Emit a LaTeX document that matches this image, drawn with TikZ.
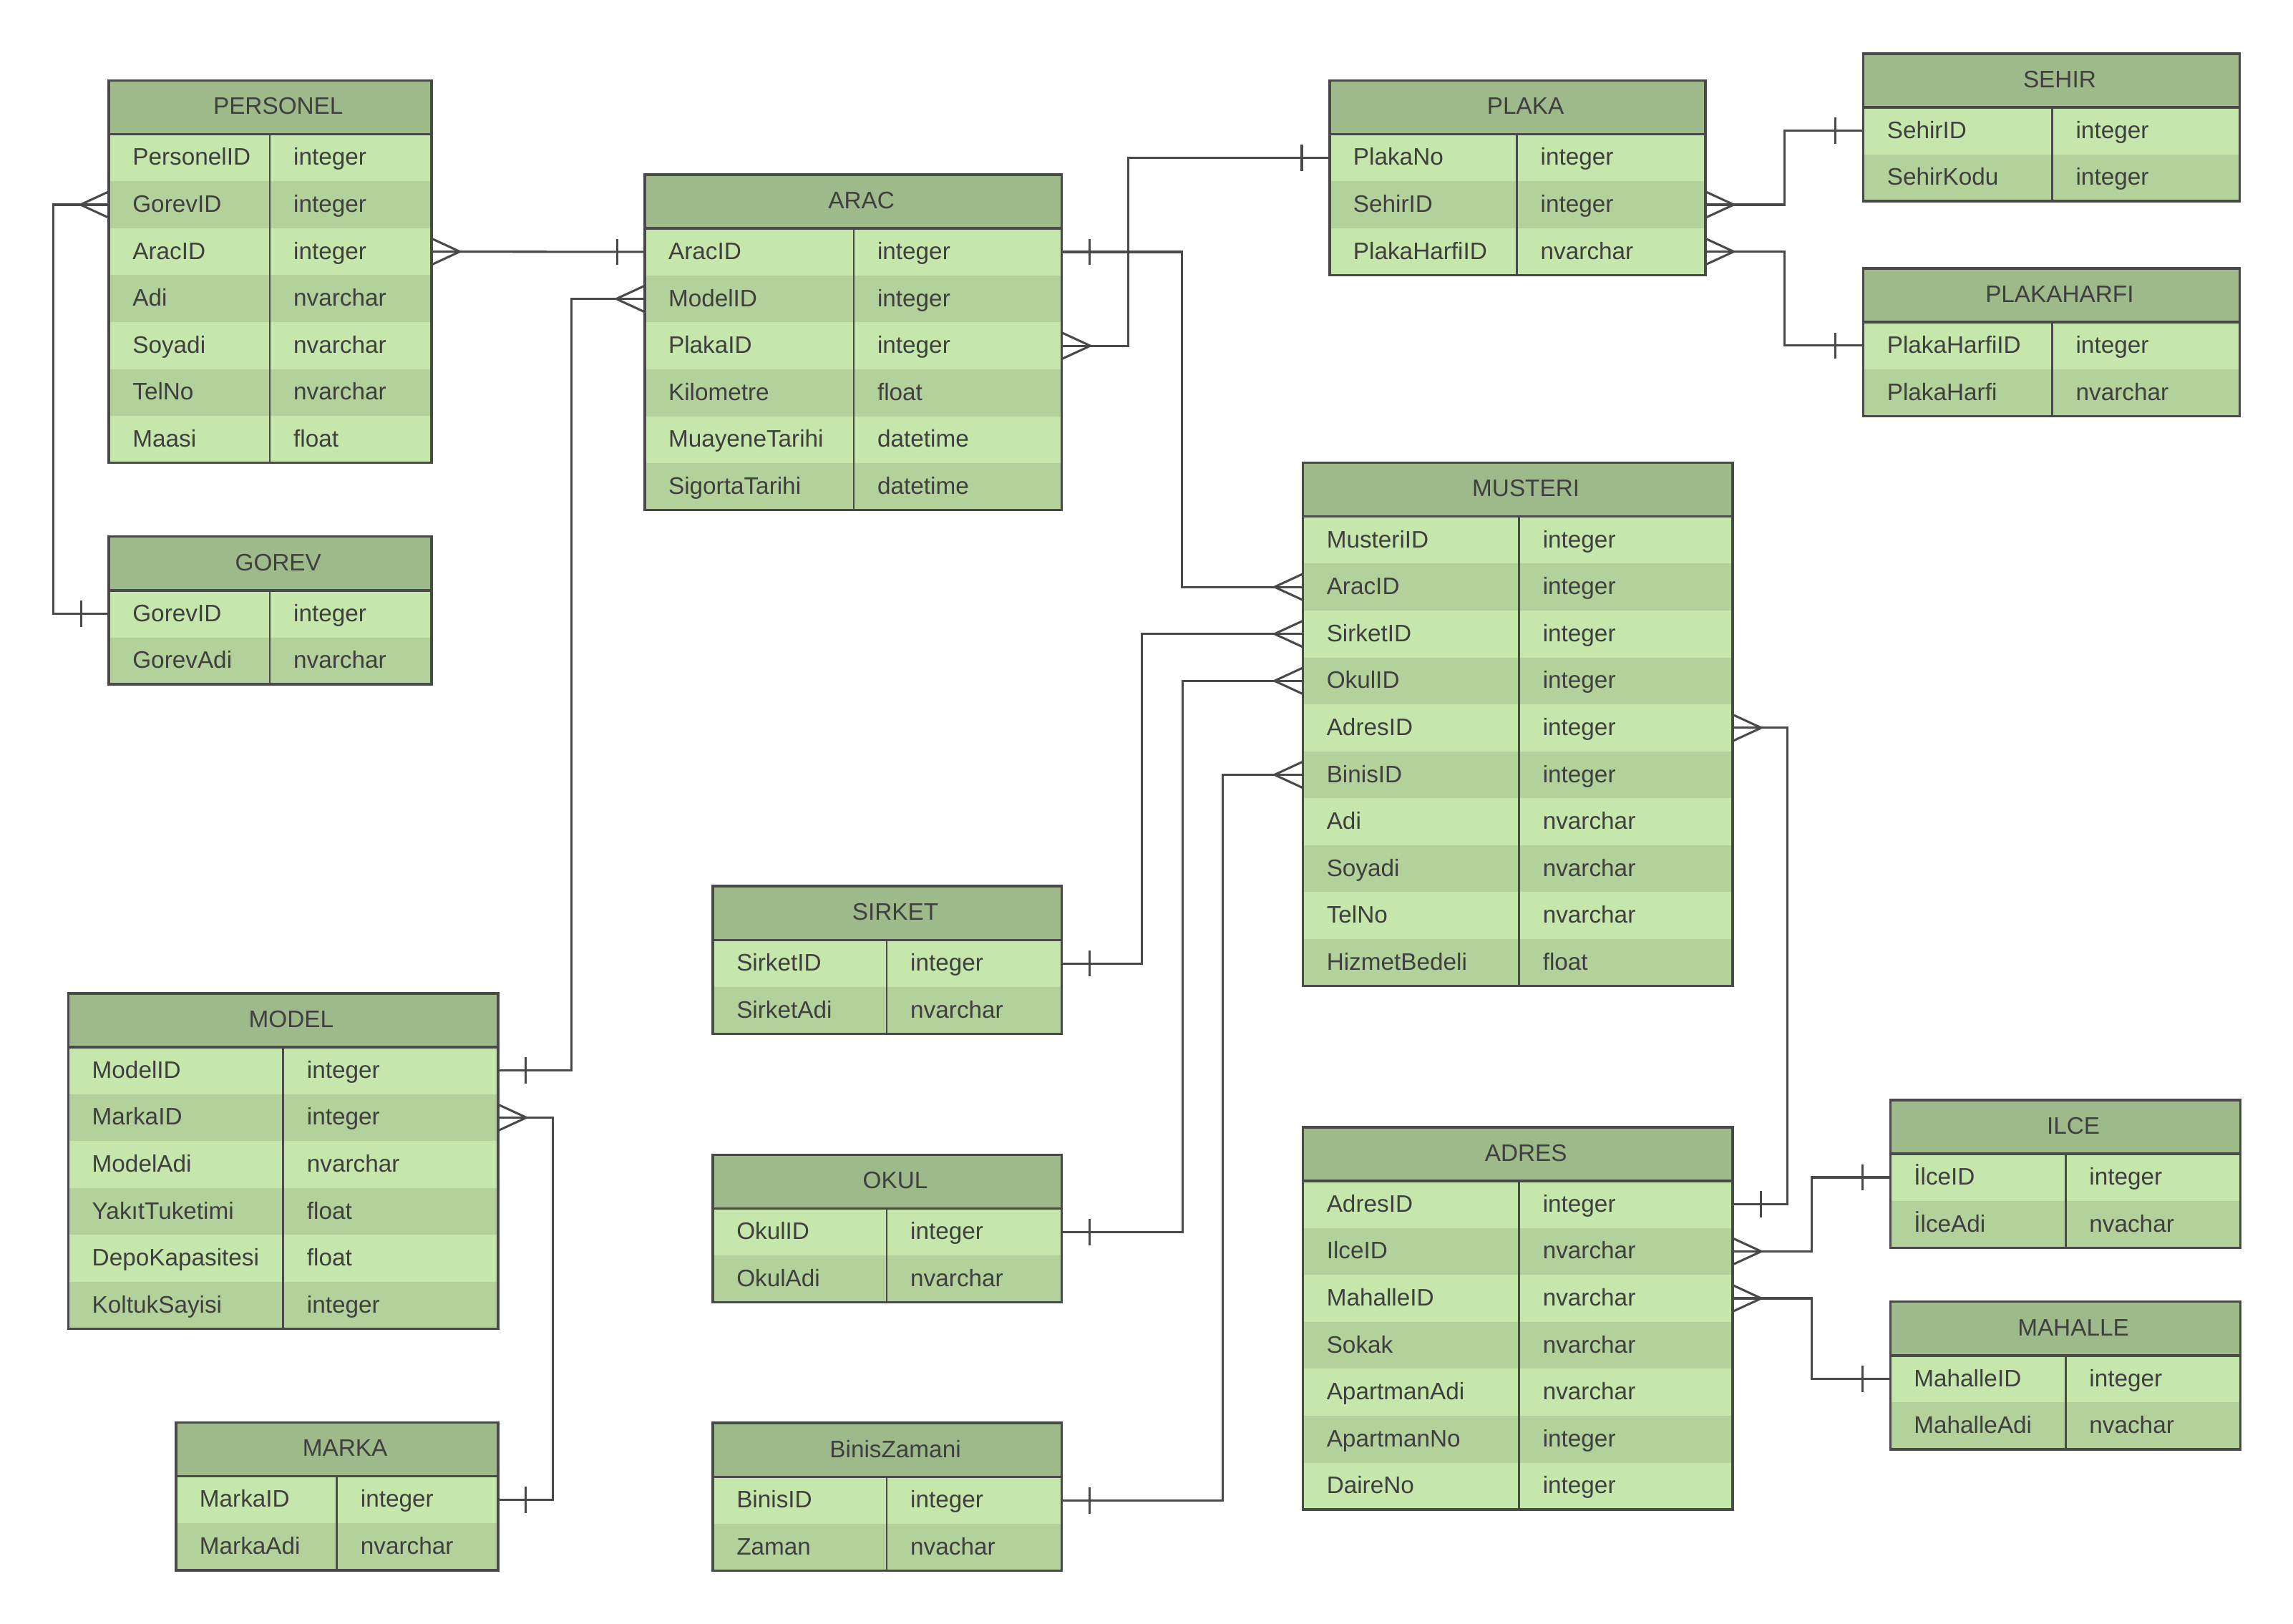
\documentclass[tikz,border=0pt]{standalone}
\usepackage{fontspec}
\setmainfont{Liberation Sans}

\definecolor{hdrgreen}{HTML}{9EBA8A}
\definecolor{rowlight}{HTML}{C6E7AC}
\definecolor{rowdark}{HTML}{B3D19B}
\definecolor{inkgrey}{HTML}{494949}
\definecolor{textgrey}{HTML}{3F3F3F}

% name, left, top, width, key column width, title, number of rows, rows
\newcommand{\erentity}[8]{%
  \node[erhead, minimum width=#4pt, anchor=north west] (#1) at (#2,#3) {};
  \node[ertitle] (#1-title) at ([xshift=5.5pt,yshift=0.8pt]#1.center) {#6};
  \foreach \fname/\ftype [count=\i] in {#8} {
    \pgfmathsetmacro{\rowy}{#3+36.8+(\i-1)*32.1}
    \ifodd\i\relax\def\rowfill{rowlight}\else\def\rowfill{rowdark}\fi
    \node[errow, fill=\rowfill, minimum width=#4pt, anchor=north west] (#1-\i) at (#2,\rowy) {};
    \node[erfield] (#1-\i-name) at (#2+16,\rowy+21.2) {\fname};
    \node[erfield] (#1-\i-type) at (#2+#5+16,\rowy+21.2) {\ftype};
  }
  \draw[erline] (#1.south west) -- (#1.south east);
  \draw[ersep] ([xshift=#5pt]#1.south west) -- ([xshift=#5pt]#1-#7.south west);
  \draw[erline] (#1.north west) rectangle (#1-#7.south east);
}

\begin{document}
\begin{tikzpicture}[
    x=1pt, y=-1pt,
    erhead/.style={rectangle,fill=hdrgreen,minimum height=36.8pt,inner sep=0pt,outer sep=0pt},
    errow/.style={rectangle,minimum height=32.1pt,inner sep=0pt,outer sep=0pt},
    ertitle/.style={inner sep=0pt,text=textgrey,font=\fontsize{16.3pt}{19pt}\selectfont},
    erfield/.style={anchor=base west,inner sep=0pt,text=textgrey,font=\fontsize{16.3pt}{19pt}\selectfont},
    erline/.style={draw=inkgrey,line width=1.7pt},
    ersep/.style={draw=inkgrey,line width=1.3pt},
    erconn/.style={draw=inkgrey,line width=1.5pt},
    manyright/.pic={\draw[erconn] (0,-9) -- (19.5,0) -- (0,9);},
    manyleft/.pic={\draw[erconn] (0,-9) -- (-19.5,0) -- (0,9);},
    oneright/.pic={\draw[erconn] (19,-9) -- (19,9);},
    oneleft/.pic={\draw[erconn] (-19,-9) -- (-19,9);}
]
    \path[use as bounding box, fill=white] (0,0) rectangle (1568,1110.4);

    % Tables
    \erentity{personel}{74.5}{55}{220.5}{110}{PERSONEL}{7}{PersonelID/integer, GorevID/integer, AracID/integer, Adi/nvarchar, Soyadi/nvarchar, TelNo/nvarchar, Maasi/float}
    \erentity{gorev}{74.5}{366.9}{220.5}{110}{GOREV}{2}{GorevID/integer, GorevAdi/nvarchar}
    \erentity{arac}{440.9}{119.4}{285.2}{142.9}{ARAC}{6}{AracID/integer, ModelID/integer, PlakaID/integer, Kilometre/float, MuayeneTarihi/datetime, SigortaTarihi/datetime}
    \erentity{plaka}{909.2}{55}{256.9}{128.1}{PLAKA}{3}{PlakaNo/integer, SehirID/integer, PlakaHarfiID/nvarchar}
    \erentity{sehir}{1274.2}{36.6}{257.4}{129.1}{SEHIR}{2}{SehirID/integer, SehirKodu/integer}
    \erentity{plakaharfi}{1274.2}{183.5}{257.4}{129.1}{PLAKAHARFI}{2}{PlakaHarfiID/integer, PlakaHarfi/nvarchar}
    \erentity{musteri}{891}{316.4}{293.9}{147.8}{MUSTERI}{10}{MusteriID/integer, AracID/integer, SirketID/integer, OkulID/integer, AdresID/integer, BinisID/integer, Adi/nvarchar, Soyadi/nvarchar, TelNo/nvarchar, HizmetBedeli/float}
    \erentity{sirket}{487.5}{605.9}{238.5}{118.9}{SIRKET}{2}{SirketID/integer, SirketAdi/nvarchar}
    \erentity{okul}{487.5}{789.5}{238.5}{118.9}{OKUL}{2}{OkulID/integer, OkulAdi/nvarchar}
    \erentity{biniszamani}{487.5}{973}{238.5}{118.9}{BinisZamani}{2}{BinisID/integer, Zaman/nvachar}
    \erentity{model}{46.8}{679.2}{293.7}{146.9}{MODEL}{6}{ModelID/integer, MarkaID/integer, ModelAdi/nvarchar, YakıtTuketimi/float, DepoKapasitesi/float, KoltukSayisi/integer}
    \erentity{marka}{120.3}{972.6}{220.2}{110.1}{MARKA}{2}{MarkaID/integer, MarkaAdi/nvarchar}
    \erentity{adres}{891}{770.7}{293.9}{147.8}{ADRES}{7}{AdresID/integer, IlceID/nvarchar, MahalleID/nvarchar, Sokak/nvarchar, ApartmanAdi/nvarchar, ApartmanNo/integer, DaireNo/integer}
    \erentity{ilce}{1292.6}{752.2}{239.3}{119.9}{ILCE}{2}{İlceID/integer, İlceAdi/nvachar}
    \erentity{mahalle}{1292.6}{890}{239.3}{119.9}{MAHALLE}{2}{MahalleID/integer, MahalleAdi/nvachar}

    % Relations
    \draw[erconn] (personel-3.east) -- (arac-1.west);
    \pic at (personel-3.east) {manyright};
    \pic at (arac-1.west) {oneleft};

    \draw[erconn] (personel-2.west) -- ++(-38,0) |- (gorev-1.west);
    \pic at (personel-2.west) {manyleft};
    \pic at (gorev-1.west) {oneleft};

    \draw[erconn] (arac-2.west) -- ++(-50,0) |- (model-1.east);
    \pic at (arac-2.west) {manyleft};
    \pic at (model-1.east) {oneright};

    \draw[erconn] (arac-3.east) -- ++(45.5,0) |- (plaka-1.west);
    \pic at (arac-3.east) {manyright};
    \pic at (plaka-1.west) {oneleft};

    \draw[erconn] (arac-1.east) -- ++(82.2,0) |- (musteri-2.west);
    \pic at (arac-1.east) {oneright};
    \pic at (musteri-2.west) {manyleft};

    \draw[erconn] (plaka-2.east) -- ++(54,0) |- (sehir-1.west);
    \pic at (plaka-2.east) {manyright};
    \pic at (sehir-1.west) {oneleft};

    \draw[erconn] (plaka-3.east) -- ++(54,0) |- (plakaharfi-1.west);
    \pic at (plaka-3.east) {manyright};
    \pic at (plakaharfi-1.west) {oneleft};

    \draw[erconn] (musteri-3.west) -- ++(-110,0) |- (sirket-1.east);
    \pic at (musteri-3.west) {manyleft};
    \pic at (sirket-1.east) {oneright};

    \draw[erconn] (musteri-4.west) -- ++(-82.5,0) |- (okul-1.east);
    \pic at (musteri-4.west) {manyleft};
    \pic at (okul-1.east) {oneright};

    \draw[erconn] (musteri-6.west) -- ++(-55,0) |- (biniszamani-1.east);
    \pic at (musteri-6.west) {manyleft};
    \pic at (biniszamani-1.east) {oneright};

    \draw[erconn] (musteri-5.east) -- ++(37.5,0) |- (adres-1.east);
    \pic at (musteri-5.east) {manyright};
    \pic at (adres-1.east) {oneright};

    \draw[erconn] (adres-2.east) -- ++(54,0) |- (ilce-1.west);
    \pic at (adres-2.east) {manyright};
    \pic at (ilce-1.west) {oneleft};

    \draw[erconn] (adres-3.east) -- ++(54,0) |- (mahalle-1.west);
    \pic at (adres-3.east) {manyright};
    \pic at (mahalle-1.west) {oneleft};

    \draw[erconn] (model-2.east) -- ++(37.5,0) |- (marka-1.east);
    \pic at (model-2.east) {manyright};
    \pic at (marka-1.east) {oneright};
\end{tikzpicture}
\end{document}
